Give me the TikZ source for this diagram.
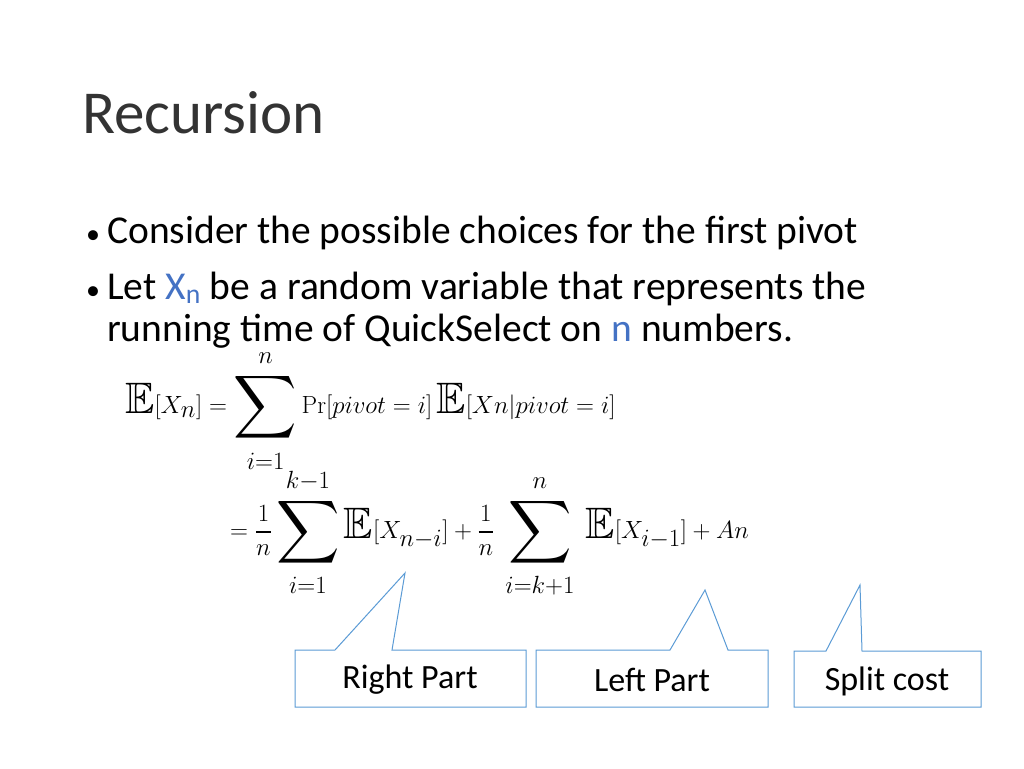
\documentclass[tikz,border=0pt]{standalone}
\usepackage{amsmath,amssymb}
\usepackage[no-math]{fontspec}
\setmainfont{Carlito}
\definecolor{accent}{HTML}{4472C4}
\definecolor{calloutline}{HTML}{5B9BD5}
\begin{document}
\begin{tikzpicture}[x=1pt,y=-1pt,
	txt/.style={anchor=base west,inner sep=0pt,font=\fontsize{39.5}{46}\selectfont},
	eq/.style={anchor=west,inner sep=0pt,font=\fontsize{44}{52}\selectfont},
	callout/.style={draw=calloutline,fill=white,line width=1pt},
	lbl/.style={font=\fontsize{34}{40}\selectfont,inner sep=0pt}]
	\useasboundingbox (0,0) rectangle (1024,768);
	\node[txt,font=\fontsize{61}{70}\selectfont,color=black!80] (title) at (82,133) {Recursion};
	\node[txt,font=\fontsize{28}{34}\selectfont] (b1) at (86,243) {•};
	\node[txt] (t1) at (107,243) {Consider the possible choices for the first pivot};
	\node[txt,font=\fontsize{28}{34}\selectfont] (b2) at (86,299) {•};
	\node[txt] (t2) at (107,299) {Let \textcolor{accent}{X\textsubscript{n}} be a random variable that represents the};
	\node[txt] (t3) at (107,341) {running time of QuickSelect on \textcolor{accent}{n} numbers.};
	\node[eq] (line1) at (125,411) {$\displaystyle \mathbb{E}[X_n] = \sum_{i=1}^{n} \mathrm{Pr}[pivot=i]\,\mathbb{E}[Xn|pivot=i]$};
	\node[eq] (line2) at (230,533) {$\displaystyle = \frac{1}{n}\sum_{i=1}^{k-1}\mathbb{E}[X_{n-i}] + \frac{1}{n}\;\sum_{i=k+1}^{n}\;\mathbb{E}[X_{i-1}] + An$};
	% callouts
	\draw[callout] (295,650) -- (335,650) -- (405,573) -- (392,650) -- (526,650)
		-- (526,707) -- (295,707) -- cycle;
	\draw[callout] (536,650) -- (670,650) -- (705,590) -- (728,650) -- (768,650)
		-- (768,707) -- (536,707) -- cycle;
	\draw[callout] (794,651) -- (826,651) -- (860,585) -- (862,651) -- (981,651)
		-- (981,707) -- (794,707) -- cycle;
	\node[lbl] (right) at (410,680) {Right Part};
	\node[lbl] (left) at (652,680) {Left Part};
	\node[lbl] (split) at (887,681) {Split cost};
\end{tikzpicture}
\end{document}
